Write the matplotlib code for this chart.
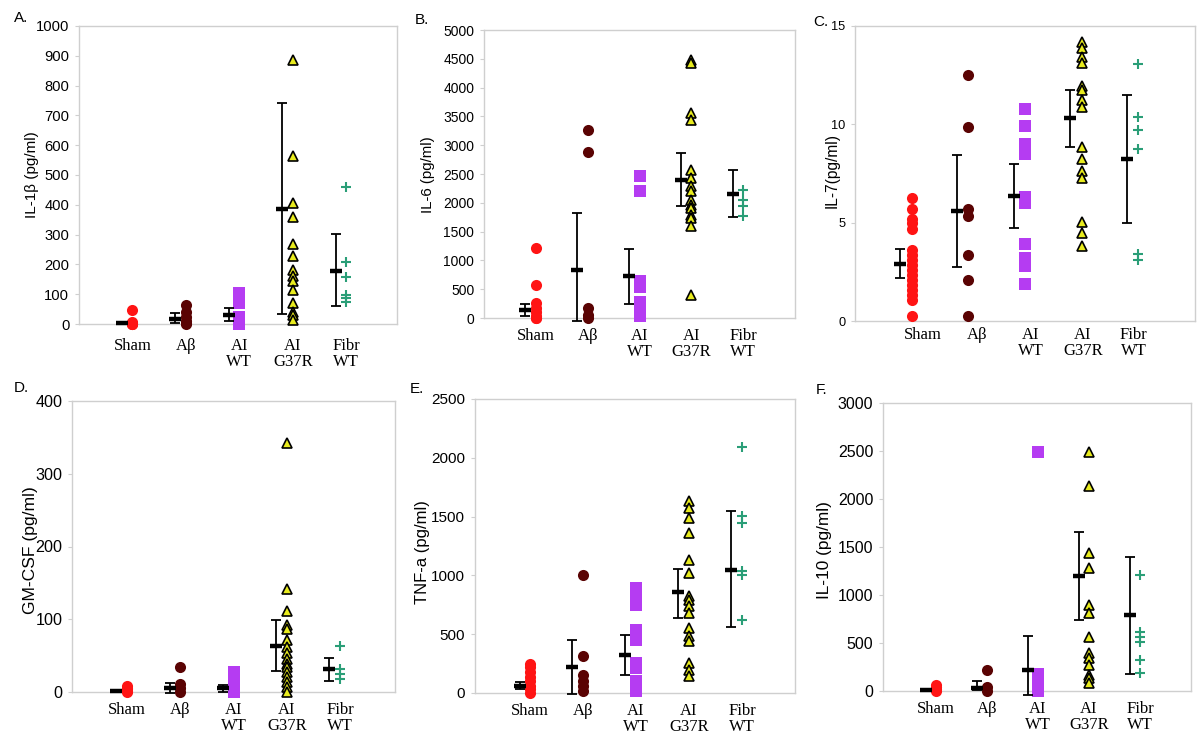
import numpy as np
import matplotlib
matplotlib.use("Agg")
import matplotlib.pyplot as plt

# ---------------- data ----------------
groups = ["Sham", "A\u03b2", "AI\nWT", "AI\nG37R", "Fibr\nWT"]

# A. IL-1beta
a_sham = [0, 0, 0, 3, 8, 48]
a_abeta = [0, 3, 10, 22, 40, 65]
a_aiwt = [0, 8, 16, 24, 72, 85, 100, 104]
a_g37r = [886, 564, 405, 358, 267, 228, 181, 160, 145, 114, 72, 41, 30, 13]
a_fibr = [461, 209, 159, 97, 86, 75]
a_mean = [4, 17, 30, 387, 179]
a_low = [2, 4, 11, 34, 62]
a_high = [7, 36, 53, 743, 301]

# B. IL-6
b_sham = [1210, 566, 260, 180, 100, 40, 0, 0]
b_abeta = [3266, 2884, 170, 60, 0]
b_aiwt = [2460, 2200, 650, 540, 280, 180, 90, 40]
b_g37r = [4480, 4420, 3555, 3440, 2572, 2428, 2283, 2197, 2052, 1965, 1908,
          1792, 1734, 1590, 405]
b_fibr = [2225, 2052, 1936, 1763]
b_mean = [145, 827, 723, 2393, 2150]
b_low = [40, -58, 249, 1948, 1751]
b_high = [249, 1821, 1197, 2873, 2561]

# C. IL-7
c_sham = [6.26, 5.67, 5.21, 4.99, 4.70, 3.63, 3.34, 3.09, 2.83, 2.58, 2.32,
          2.07, 1.82, 1.60, 1.31, 1.05, 0.24]
c_abeta = [12.5, 9.84, 5.72, 5.33, 3.34, 2.07, 0.24]
c_aiwt = [10.8, 9.9, 9.0, 8.5, 6.3, 6.0, 3.9, 3.2, 2.8, 1.9]
c_g37r = [14.2, 13.86, 13.44, 13.1, 11.95, 11.74, 11.23, 10.86, 8.86, 8.26,
          7.64, 7.25, 5.04, 4.45, 3.80]
c_fibr = [13.05, 10.35, 9.7, 8.74, 3.43, 3.12]
c_mean = [2.92, 5.6, 6.36, 10.3, 8.23]
c_low = [2.19, 2.75, 4.73, 8.86, 4.96]
c_high = [3.68, 8.43, 7.97, 11.74, 11.49]

# D. GM-CSF
d_sham = [0, 2, 4, 6, 8]
d_abeta = [35, 11, 5, 0]
d_aiwt = [28, 20, 12, 4, 0]
d_g37r = [342, 141, 112, 92, 86, 71, 62, 53, 46, 39, 34, 27, 21, 14, 7, 0]
d_fibr = [63, 32, 25, 18]
d_mean = [1, 5, 5, 63, 32]
d_low = [0, -2, 0, 29, 15]
d_high = [2, 13, 10, 99, 47]

# E. TNF-a
e_sham = [250, 220, 180, 140, 100, 60, 30, 0]
e_abeta = [1000, 317, 156, 99, 57, 14]
e_aiwt = [893, 820, 751, 539, 454, 255, 213, 99, 14]
e_g37r = [1630, 1573, 1488, 1361, 1128, 1020, 822, 794, 737, 680, 553, 482,
          439, 255, 198, 142]
e_fibr = [2089, 1502, 1446, 1035, 1006, 624]
e_mean = [57, 218, 323, 856, 1049]
e_low = [34, -6, 150, 638, 559]
e_high = [94, 454, 490, 1057, 1545]

# F. IL-10
f_sham = [60, 40, 20, 0]
f_abeta = [219, 45, 0]
f_aiwt = [2486, 174, 110, 50, 0]
f_g37r = [2486, 2138, 1436, 1280, 897, 817, 567, 393, 341, 271, 167, 132, 80]
f_fibr = [1210, 619, 567, 515, 323, 184]
f_mean = [10, 28, 219, 1200, 793]
f_low = [5, 10, -42, 741, 177]
f_high = [15, 108, 577, 1652, 1401]

# ---------------- styling ----------------
W, H = 1200, 743
fig = plt.figure(figsize=(12, 7.43), dpi=100)

SANS = "Liberation Sans"
SERIF = "Liberation Serif"
GRID = "#cfcfcf"

styles = [
    dict(marker="o", color="#ff1414", ms=8.0, mec="#ff1414", mew=0),
    dict(marker="o", color="#5a0303", ms=8.0, mec="#5a0303", mew=0),
    dict(marker="s", color="#b53cf2", ms=8.2, mec="#b53cf2", mew=0),
    dict(marker="^", color="#e8eb1e", ms=7.0, mec="black", mew=1.2),
    dict(marker="+", color="#2a9e77", ms=7.8, mec="#2a9e77", mew=1.5),
]


def rect(l, t, r, b):
    return [l / W, 1 - b / H, (r - l) / W, (b - t) / H]


panels = [
    dict(rect=rect(79, 26, 397, 324), xlim=(0, 5.95), ylim=(0, 1000),
         yticks=np.arange(0, 1001, 100), tfs=10.6, pad=10, lab_x=None,
         data=[a_sham, a_abeta, a_aiwt, a_g37r, a_fibr],
         mean=a_mean, low=a_low, high=a_high,
         ylabel="IL-1\u03b2 (pg/ml)", ylfs=11, ylxy=(32, 175),
         letter="A.", lxy=(14, 17.5)),
    dict(rect=rect(484, 30, 795, 318), xlim=(0, 6), ylim=(0, 5000),
         yticks=np.arange(0, 5001, 500), tfs=10.0, pad=7, lab_x=None,
         data=[b_sham, b_abeta, b_aiwt, b_g37r, b_fibr],
         mean=b_mean, low=b_low, high=b_high,
         ylabel="IL-6 (pg/ml)", ylfs=10.8, ylxy=(428, 175),
         letter="B.", lxy=(415, 20)),
    dict(rect=rect(855, 26, 1195, 321), xlim=(0, 6), ylim=(0, 15),
         yticks=[0, 5, 10, 15], tfs=9.2, pad=4, lab_x=[1.2, 2.16, 3.1, 4.02, 4.92],
         data=[c_sham, c_abeta, c_aiwt, c_g37r, c_fibr],
         mean=c_mean, low=c_low, high=c_high,
         ylabel="IL-7(pg/ml)", ylfs=11.2, ylxy=(832, 170),
         letter="C.", lxy=(813, 22)),
    dict(rect=rect(72, 401, 395, 692), xlim=(-0.03, 6.03), ylim=(0, 400),
         yticks=[0, 100, 200, 300, 400], tfs=11.6, pad=7, lab_x=None,
         data=[d_sham, d_abeta, d_aiwt, d_g37r, d_fibr],
         mean=d_mean, low=d_low, high=d_high,
         ylabel="GM-CSF (pg/ml)", ylfs=12.6, ylxy=(30, 550),
         letter="D.", lxy=(14, 388)),
    dict(rect=rect(475, 399, 795, 693), xlim=(-0.04, 6.0), ylim=(0, 2500),
         yticks=np.arange(0, 2501, 500), tfs=11.0, pad=7.5, lab_x=None,
         data=[e_sham, e_abeta, e_aiwt, e_g37r, e_fibr],
         mean=e_mean, low=e_low, high=e_high,
         ylabel="TNF-a (pg/ml)", ylfs=12, ylxy=(423, 552),
         letter="E.", lxy=(410, 389)),
    dict(rect=rect(883, 403, 1191, 691), xlim=(-0.04, 6.0), ylim=(0, 3000),
         yticks=np.arange(0, 3001, 500), tfs=11.5, pad=7.5, lab_x=None,
         data=[f_sham, f_abeta, f_aiwt, f_g37r, f_fibr],
         mean=f_mean, low=f_low, high=f_high,
         ylabel="IL-10 (pg/ml)", ylfs=12.4, ylxy=(825, 550),
         letter="F.", lxy=(816, 390)),
]

xpos = np.arange(1, 6)

for p in panels:
    ax = fig.add_axes(p["rect"])
    ax.set_xlim(*p["xlim"])
    ax.set_ylim(*p["ylim"])
    for s in ax.spines.values():
        s.set_color(GRID)
        s.set_linewidth(1.0)
    ax.set_yticks(p["yticks"])
    ax.set_yticklabels([f"{v:g}" for v in p["yticks"]], fontfamily=SANS,
                       fontsize=p["tfs"])
    ax.tick_params(axis="y", length=3, width=0.8, color=GRID, pad=4)
    lx = p["lab_x"] if p["lab_x"] is not None else xpos
    ax.set_xticks(lx)
    ax.set_xticklabels(groups, fontfamily=SERIF, fontsize=12, linespacing=1.0)
    ax.tick_params(axis="x", length=0, pad=p["pad"])

    # points
    for i, (vals, st) in enumerate(zip(p["data"], styles)):
        ax.plot(np.full(len(vals), xpos[i], dtype=float), vals, ls="none",
                marker=st["marker"], ms=st["ms"], mfc=st["color"],
                mec=st["mec"], mew=st["mew"], clip_on=False, zorder=3)

    # error bars and means
    ex = xpos - 0.2
    mean = np.array(p["mean"], dtype=float)
    low = np.array(p["low"], dtype=float)
    high = np.array(p["high"], dtype=float)
    ax.errorbar(ex, mean, yerr=[mean - low, high - mean], fmt="none",
                ecolor="black", elinewidth=1.3, capsize=3.4, capthick=1.3,
                clip_on=False, zorder=4)
    ax.plot(ex, mean, ls="none", marker="_", ms=8, mew=3.2, color="black",
            clip_on=False, zorder=5)

    fig.text(p["ylxy"][0] / W, 1 - p["ylxy"][1] / H, p["ylabel"],
             rotation=90, ha="center", va="center", fontfamily=SANS,
             fontsize=p["ylfs"])
    fig.text(p["lxy"][0] / W, 1 - p["lxy"][1] / H, p["letter"],
             ha="left", va="center", fontfamily=SANS, fontsize=11)

fig.savefig("out.png", dpi=100)
